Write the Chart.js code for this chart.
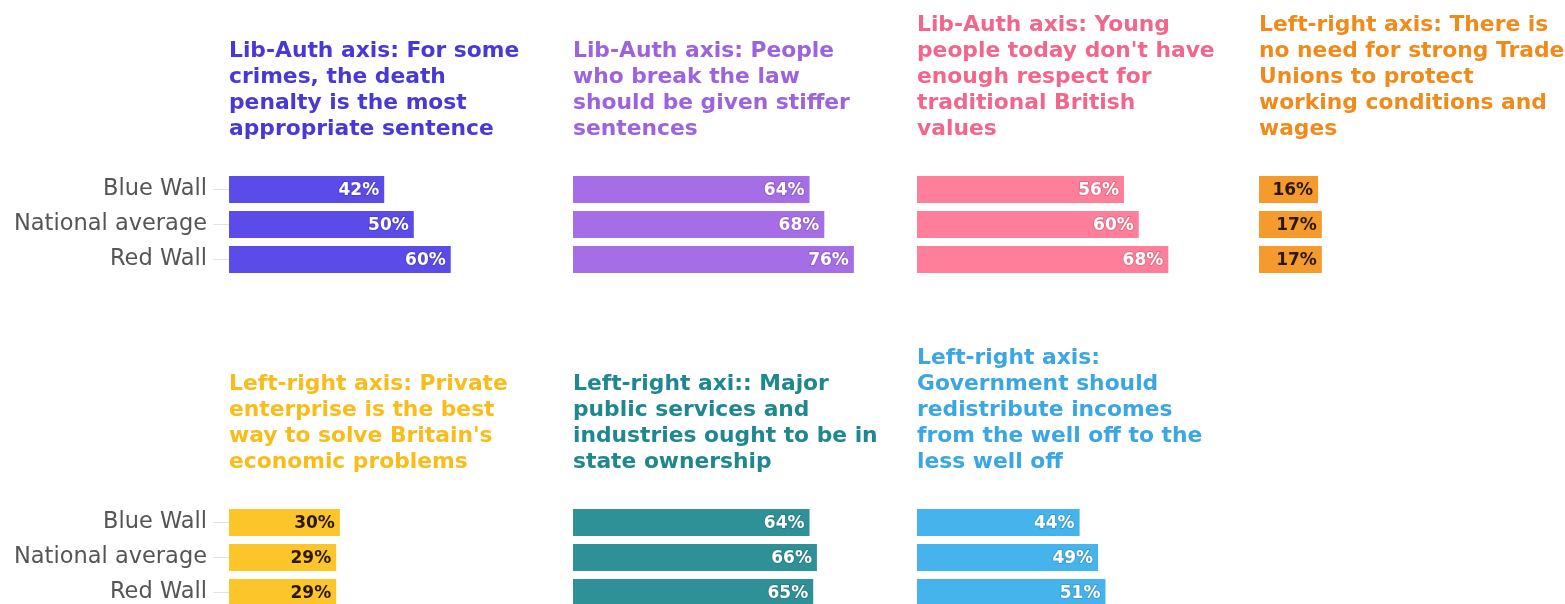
<!DOCTYPE html>
<html>
<head>
<meta charset="utf-8">
<script src="https://cdn.jsdelivr.net/npm/chart.js@4"></script>
<style>
body { margin: 0; background: #fff; overflow: hidden; width: 1565px; height: 604px; position: relative; }
canvas { position: absolute; }
</style>
</head>
<body>
<canvas id="deathPenalty" width="569" height="290" style="left:0px;top:0px"></canvas>
<canvas id="stifferSentences" width="340" height="290" style="left:573px;top:0px"></canvas>
<canvas id="respect" width="340" height="290" style="left:917px;top:0px"></canvas>
<canvas id="tradeUnions" width="340" height="290" style="left:1259px;top:0px"></canvas>
<canvas id="privateEnterprise" width="569" height="290" style="left:0px;top:333px"></canvas>
<canvas id="stateOwnership" width="340" height="290" style="left:573px;top:333px"></canvas>
<canvas id="redistribute" width="340" height="290" style="left:917px;top:333px"></canvas>
<script>
const groups = ["Blue Wall", "National average", "Red Wall"]

const deathPenalty = [42, 50, 60]
const stifferSentences = [64, 68, 76]
const respect = [56, 60, 68]
const tradeUnions = [16, 17, 17]
const privateEnterprise = [30, 29, 29]
const stateOwnership = [64, 66, 65]
const redistribute = [44, 49, 51]

const deathPenaltyTitle = ["Lib-Auth axis: For some", "crimes, the death", "penalty is the most", "appropriate sentence"]
const stifferSentencesTitle = ["Lib-Auth axis: People", "who break the law", "should be given stiffer", "sentences"]
const respectTitle = ["Lib-Auth axis: Young", "people today don't have", "enough respect for", "traditional British", "values"]
const tradeUnionsTitle = ["Left-right axis: There is", "no need for strong Trade", "Unions to protect", "working conditions and", "wages"]
const privateEnterpriseTitle = ["Left-right axis: Private", "enterprise is the best", "way to solve Britain's", "economic problems"]
const stateOwnershipTitle = ["Left-right axi:: Major", "public services and", "industries ought to be in", "state ownership"]
const redistributeTitle = ["Left-right axis:", "Government should", "redistribute incomes", "from the well off to the", "less well off"]

const valueLabels = {
    id: 'valueLabels',
    afterDatasetsDraw(chart) {
        const ctx = chart.ctx
        const meta = chart.getDatasetMeta(0)
        const color = chart.options.plugins.valueLabels.color
        ctx.save()
        ctx.font = "bold 17px 'DejaVu Sans'"
        ctx.textAlign = 'right'
        ctx.textBaseline = 'middle'
        meta.data.forEach((bar, i) => {
            const text = chart.data.datasets[0].data[i] + '%'
            if (color === '#fff') {
                ctx.lineWidth = 2
                ctx.strokeStyle = 'rgba(0,0,0,0.12)'
                ctx.strokeText(text, bar.x - 5, bar.y + 1)
            }
            ctx.fillStyle = color
            ctx.fillText(text, bar.x - 5, bar.y + 1)
        })
        ctx.restore()
    }
}

function drawPanel({canvasId, values, title, color, titleColor, labelColor, showAxis}) {
    new Chart(canvasId, {
        type: 'bar',
        data: {
            labels: groups,
            datasets: [{
                data: values,
                backgroundColor: color,
                categoryPercentage: 1,
                barPercentage: 0.77
            }]
        },
        options: {
            indexAxis: 'y',
            responsive: false,
            animation: false,
            layout: {
                padding: {top: 172 - title.length * 26 - 30, bottom: 13, left: 0, right: 0}
            },
            scales: {
                x: {display: false, min: 0, max: 92},
                y: {
                    display: showAxis,
                    afterFit: scale => {
                        if (!showAxis) return
                        scale.width = 229
                        scale.paddingTop = 0
                        scale.paddingBottom = 0
                    },
                    border: {display: false},
                    grid: {drawOnChartArea: false, offset: false, color: '#e2e2e2', tickLength: 16},
                    ticks: {padding: 6, color: '#555', font: {family: 'DejaVu Sans', size: 22.5}}
                }
            },
            plugins: {
                legend: {display: false},
                tooltip: {enabled: false},
                title: {
                    display: true,
                    text: title,
                    align: 'start',
                    fullSize: false,
                    color: titleColor,
                    padding: {top: 0, bottom: 30},
                    font: {family: 'DejaVu Sans', weight: 'bold', size: 21.8, lineHeight: '26px'}
                },
                valueLabels: {color: labelColor}
            }
        },
        plugins: [valueLabels]
    })
}

drawPanel({canvasId: 'deathPenalty', values: deathPenalty, title: deathPenaltyTitle,
    color: '#5b4be8', titleColor: '#4838d8', labelColor: '#fff', showAxis: true})
drawPanel({canvasId: 'stifferSentences', values: stifferSentences, title: stifferSentencesTitle,
    color: '#a66ee6', titleColor: '#9d62de', labelColor: '#fff', showAxis: false})
drawPanel({canvasId: 'respect', values: respect, title: respectTitle,
    color: '#ff7e99', titleColor: '#f2668b', labelColor: '#fff', showAxis: false})
drawPanel({canvasId: 'tradeUnions', values: tradeUnions, title: tradeUnionsTitle,
    color: '#f59a2c', titleColor: '#f08a1a', labelColor: '#2a1800', showAxis: false})
drawPanel({canvasId: 'privateEnterprise', values: privateEnterprise, title: privateEnterpriseTitle,
    color: '#fcc52a', titleColor: '#f8bd1a', labelColor: '#2a1800', showAxis: true})
drawPanel({canvasId: 'stateOwnership', values: stateOwnership, title: stateOwnershipTitle,
    color: '#2f9198', titleColor: '#1f878e', labelColor: '#fff', showAxis: false})
drawPanel({canvasId: 'redistribute', values: redistribute, title: redistributeTitle,
    color: '#45b3ec', titleColor: '#3aa6e2', labelColor: '#fff', showAxis: false})
</script>
</body>
</html>
